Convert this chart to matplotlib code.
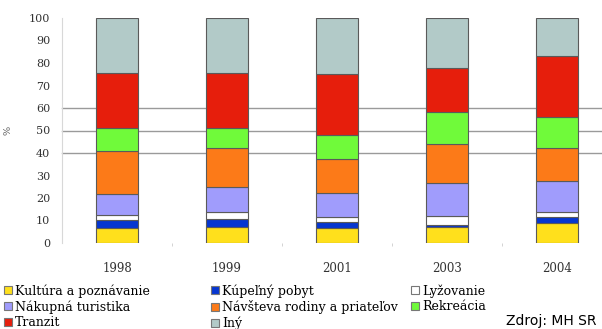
import numpy as np
import matplotlib
matplotlib.use("Agg")
import matplotlib.pyplot as plt
from matplotlib.patches import Patch

# Data (percent shares per year)
years = ["1998", "1999", "2001", "2003", "2004"]
kultura = [6.8, 7.2, 6.8, 7.3, 8.7]
kupelny = [3.4, 3.3, 2.7, 0.7, 3.0]
lyzovanie = [2.2, 3.4, 2.2, 4.0, 2.2]
nakupna = [9.2, 11.1, 10.4, 14.8, 13.7]
navsteva = [19.4, 17.1, 15.1, 17.1, 14.5]
rekreacia = [10.3, 9.2, 10.8, 14.5, 13.8]
tranzit = [24.4, 24.4, 27.1, 19.5, 27.2]
iny = [24.3, 24.3, 24.9, 22.1, 16.9]

series = [
    ("Kultúra a poznávanie", kultura, "#FFE01C"),
    ("Kúpeľný pobyt", kupelny, "#0636D0"),
    ("Lyžovanie", lyzovanie, "#FFFFFF"),
    ("Nákupná turistika", nakupna, "#A09CFC"),
    ("Návšteva rodiny a priateľov", navsteva, "#FC7A18"),
    ("Rekreácia", rekreacia, "#70FA3A"),
    ("Tranzit", tranzit, "#E61E0C"),
    ("Iný", iny, "#B2CAC8"),
]

plt.rcParams['font.family'] = ['DejaVu Serif']

fig = plt.figure(figsize=(6.02, 3.29), dpi=100)
ax = fig.add_axes([62 / 602, 86 / 329, 550 / 602, 225 / 329])

x = np.arange(len(years))
bottom = np.zeros(len(years))
handles = []
for name, vals, col in series:
    ax.bar(x, vals, width=0.39, bottom=bottom, color=col,
           edgecolor="#5a5a5a", linewidth=0.8, zorder=3)
    bottom += np.array(vals)
    handles.append(Patch(facecolor=col, edgecolor="#777777", linewidth=0.8, label=name))

# horizontal reference lines
for v in [40, 50, 60]:
    ax.axhline(v, color="#9a9a9a", lw=1.0, zorder=1, clip_on=False)

ax.set_xlim(-0.5, 4.5)
ax.set_ylim(0, 100)
ax.set_yticks(range(0, 101, 10))
ax.set_xticks(x)
ax.set_xticklabels(years, fontsize=8.5, color="#333333")
ax.set_xticks(x[:-1] + 0.5, minor=True)
ax.tick_params(axis="x", which="major", length=0, pad=14)
ax.tick_params(axis="x", which="minor", length=2, color="#cccccc", direction="out")
ax.tick_params(axis="y", length=0, pad=8.5, labelsize=8, labelcolor="#333333")
for s in ["top", "right", "bottom"]:
    ax.spines[s].set_visible(False)
ax.spines["left"].set_color("#d8d8d8")
ax.set_ylabel("%", fontsize=7, labelpad=12, color="#555555")

# legend: three columns placed separately
columns = [[0, 3, 6], [1, 4, 7], [2, 5]]
col_x = [4, 211, 411]
for idx, cx in zip(columns, col_x):
    leg = fig.legend([handles[i] for i in idx], [handles[i].get_label() for i in idx],
                     loc="upper left", bbox_to_anchor=(cx / 602, 1 - 284 / 329),
                     frameon=False, fontsize=9, handlelength=0.6, handleheight=0.6,
                     handletextpad=0.3, labelspacing=0.2,
                     borderaxespad=0, borderpad=0)

fig.text(596 / 602, 1 / 329, "Zdroj: MH SR", fontsize=10, family="DejaVu Sans",
         ha="right", va="bottom")

fig.savefig("out.png", dpi=100)
